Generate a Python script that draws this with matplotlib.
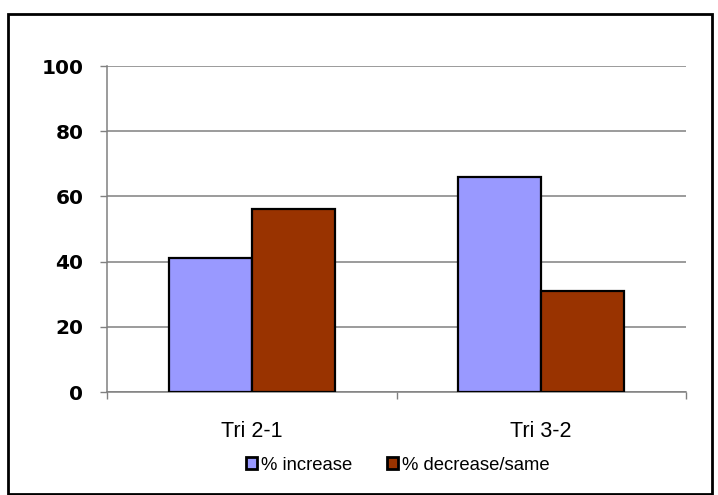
import matplotlib.pyplot as plt
import numpy as np
from matplotlib.patches import Rectangle

categories = ['Tri 2-1', 'Tri 3-2']
pct_increase = [41, 66]
pct_decrease = [56, 31]
series_names = ['% increase', '% decrease/same']
yticks = [0, 20, 40, 60, 80, 100]

W, H = 718, 495
fig = plt.figure(figsize=(W / 100, H / 100), dpi=100)
ax = fig.add_axes([107 / W, 1 - 392 / H, (686 - 107) / W, (392 - 66) / H])

x = np.arange(len(categories))
bw = 0.287
ax.bar(x - bw / 2, pct_increase, bw, color='#9999FF', edgecolor='black', linewidth=1.6,
       label=series_names[0], zorder=3)
ax.bar(x + bw / 2, pct_decrease, bw, color='#993300', edgecolor='black', linewidth=1.6,
       label=series_names[1], zorder=3)

ax.set_xlim(-0.5, len(categories) - 0.5)
ax.set_ylim(0, 100)
ax.set_yticks(yticks)
ax.set_yticklabels([str(v) for v in yticks], fontfamily='DejaVu Sans', fontweight='bold',
                   fontsize=14.5)
ax.yaxis.grid(True, color='#808080', linewidth=1.1, zorder=0)

# category labels sit between the boundary ticks
ax.set_xticks(x)
ax.set_xticklabels(categories, fontfamily='Liberation Sans', fontsize=15.5)
ax.tick_params(axis='x', length=0, pad=21)
ax.set_xticks(np.arange(len(categories) + 1) - 0.5, minor=True)
ax.tick_params(axis='x', which='minor', length=5, color='#808080', width=1)
ax.tick_params(axis='y', length=5, color='#808080', width=1, pad=12)

for s in ['top', 'right']:
    ax.spines[s].set_visible(False)
for s in ['left', 'bottom']:
    ax.spines[s].set_color('#808080')
    ax.spines[s].set_linewidth(1.1)

leg = fig.legend(loc='center', bbox_to_anchor=(398 / W, 1 - 465 / H), ncol=2, frameon=False,
                 prop={'family': 'Liberation Sans', 'size': 13.3}, handlelength=0.6,
                 handleheight=0.6, handletextpad=0.2, columnspacing=1.9)
for h in leg.legend_handles:
    h.set_linewidth(2)

# outer frame around the whole chart
fig.patches.append(Rectangle((8 / W, 0.002), (712 - 8) / W, 1 - 14 / H - 0.002,
                             transform=fig.transFigure, fill=False, edgecolor='black',
                             linewidth=2))

fig.savefig('out.png', dpi=100)
